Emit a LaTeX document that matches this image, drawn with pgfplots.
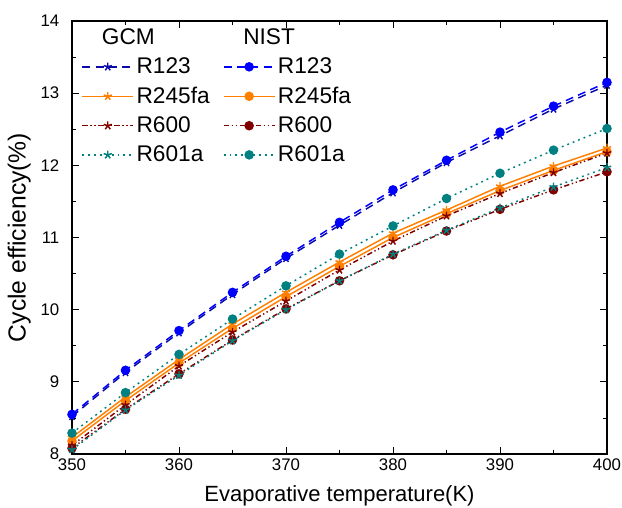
\documentclass[border=0pt]{standalone}
\usepackage{fontspec}
\setmainfont{Liberation Sans}
\usepackage{pgfplots}
\usepackage{pgfplotstable}
\pgfplotsset{compat=1.18}
\usetikzlibrary{calc}

\definecolor{navyb}{RGB}{10,10,170}
\definecolor{blueb}{RGB}{0,0,255}
\definecolor{orng}{RGB}{255,128,0}
\definecolor{dred}{RGB}{128,0,0}
\definecolor{teal2}{RGB}{0,128,128}

% T, GCM and NIST cycle efficiency (%)
\pgfplotstableread{
T   gR123 nR123 gR245 nR245 gR600 nR600 gR601 nR601
350 8.52  8.55  8.23  8.18  8.12  8.08  8.06  8.29
355 9.13  9.16  8.79  8.74  8.68  8.62  8.61  8.85
360 9.68  9.71  9.31  9.26  9.22  9.11  9.09  9.38
365 10.21 10.24 9.80  9.74  9.69  9.58  9.57  9.87
370 10.71 10.74 10.24 10.18 10.12 10.01 10.00 10.33
375 11.17 11.21 10.66 10.60 10.55 10.40 10.40 10.77
380 11.62 11.66 11.06 11.00 10.95 10.76 10.77 11.16
385 12.04 12.07 11.38 11.33 11.30 11.09 11.10 11.54
390 12.41 12.46 11.71 11.65 11.61 11.39 11.41 11.89
395 12.78 12.82 11.99 11.93 11.90 11.66 11.70 12.21
400 13.11 13.15 12.24 12.19 12.17 11.91 11.97 12.51
}\eff

\begin{document}
\begin{tikzpicture}
\begin{axis}[
  name=ax,
  scale only axis,
  width=401.25pt, height=324.75pt,
  xmin=350, xmax=400, ymin=8, ymax=14,
  xtick={350,360,...,400}, ytick={8,9,...,14},
  minor x tick num=1, minor y tick num=1,
  tick align=inside,
  major tick length=5pt, minor tick length=3pt,
  tick style={black, line width=0.6pt},
  axis line style={line width=1pt},
  /pgf/number format/assume math mode=true,
  /pgf/number format/1000 sep={},
  ticklabel style={font=\fontsize{12.6}{14}\selectfont},
  yticklabel style={xshift=-6pt},
  xlabel={Evaporative temperature(K)},
  ylabel={Cycle efficiency(\%)},
  xlabel style={font=\fontsize{16.5}{18}\selectfont, yshift=-4pt},
  ylabel style={font=\fontsize{18.5}{20}\selectfont, yshift=0.5pt},
  legend columns=2,
  legend cell align=left,
  legend style={draw=none, fill=none, at={(0.01,0.995)}, anchor=north west,
    font=\fontsize{17}{20}\selectfont, row sep=4.5pt,
    /tikz/every even column/.append style={column sep=8pt}},
  legend image code/.code={\draw[mark repeat=2,mark phase=2] plot coordinates {(0cm,0cm) (0.67cm,0cm) (1.34cm,0cm)};},
  every axis plot/.append style={line width=1.1pt},
]
\addlegendimage{empty legend}\addlegendentry{\hspace*{-26pt}GCM}
\addlegendimage{empty legend}\addlegendentry{\hspace*{-26pt}NIST}

\addplot[navyb, dash pattern=on 6pt off 4pt, mark=star, mark size=3.2pt, mark options={solid}] table[x=T, y=gR123] {\eff};
\addlegendentry{R123}
\addplot[blueb, dash pattern=on 6pt off 4pt, mark=*, mark size=3pt, mark options={solid}] table[x=T, y=nR123] {\eff};
\addlegendentry{R123}

\addplot[orng, mark=star, mark size=3.2pt] table[x=T, y=gR245] {\eff};
\addlegendentry{R245fa}
\addplot[orng, mark=*, mark size=3pt] table[x=T, y=nR245] {\eff};
\addlegendentry{R245fa}

\addplot[dred, dash pattern=on 4pt off 2pt on 1pt off 2pt on 1pt off 2pt, mark=star, mark size=3.2pt, mark options={solid}] table[x=T, y=gR600] {\eff};
\addlegendentry{R600}
\addplot[dred, dash pattern=on 4pt off 2pt on 1pt off 2pt on 1pt off 2pt, mark=*, mark size=3pt, mark options={solid}] table[x=T, y=nR600] {\eff};
\addlegendentry{R600}

\addplot[teal2, dash pattern=on 1.4pt off 3pt, mark=star, mark size=3.2pt, mark options={solid}] table[x=T, y=gR601] {\eff};
\addlegendentry{R601a}
\addplot[teal2, dash pattern=on 1.4pt off 3pt, mark=*, mark size=3pt, mark options={solid}] table[x=T, y=nR601] {\eff};
\addlegendentry{R601a}
\end{axis}
\pgfresetboundingbox
\path ($(ax.south west)+(-54pt,-40.5pt)$) rectangle ($(ax.north east)+(11.25pt,15.75pt)$);
\end{tikzpicture}
\end{document}
